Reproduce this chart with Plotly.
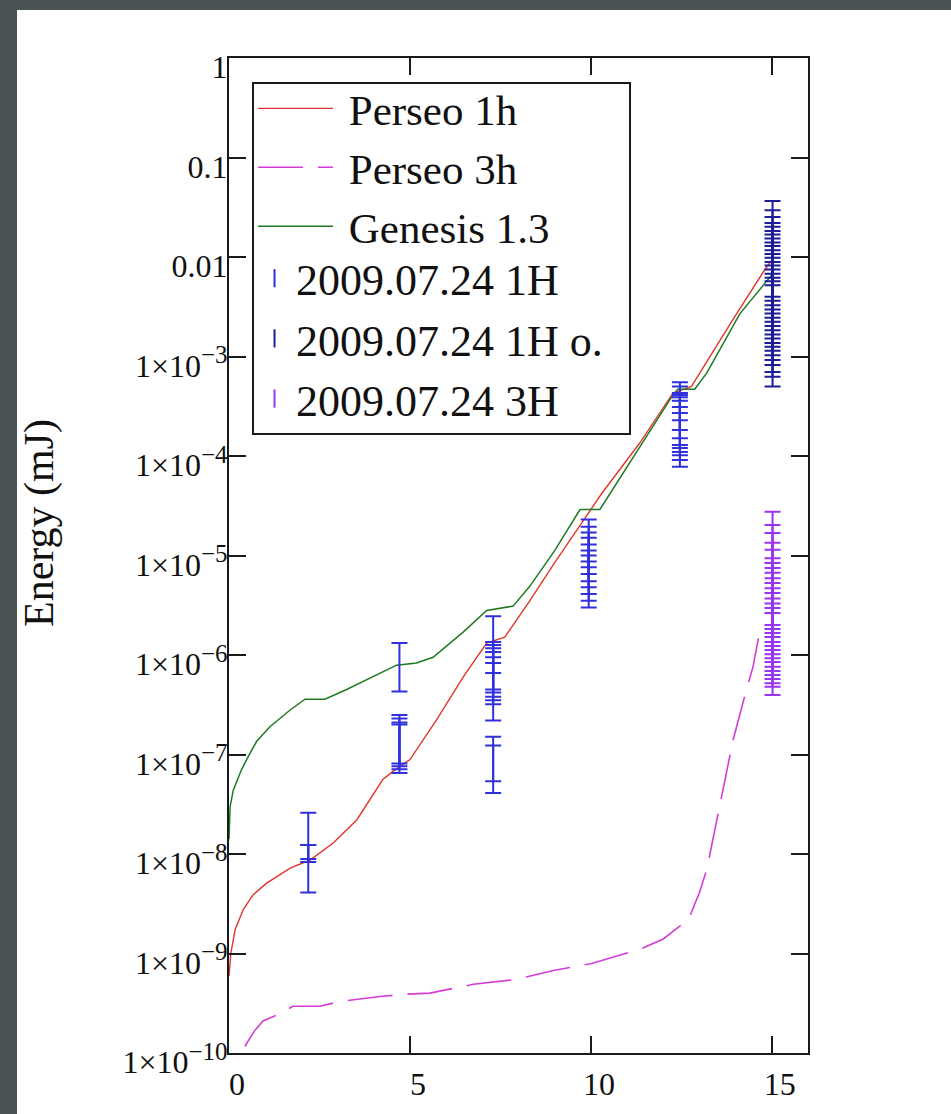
import plotly.graph_objects as go

# ---------------- data ----------------
# Perseo 1h (red)
p1h_x = [0, 0.05, 0.17, 0.4, 0.67, 1.04, 1.69, 2.24, 2.88, 3.53, 4.25, 4.54, 5.0, 5.74,
         6.47, 7.12, 7.62, 8.31, 9.0, 9.7, 10.3, 11.35, 12.27, 12.78, 13.2, 13.92, 14.8, 15.0]
p1h_e = [5.9e-10, 1.0e-9, 1.74e-9, 2.8e-9, 3.9e-9, 5.1e-9, 7.2e-9, 8.7e-9, 1.29e-8, 2.2e-8,
         5.6e-8, 6.8e-8, 8.9e-8, 2.24e-7, 6.0e-7, 1.32e-6, 1.51e-6, 3.5e-6, 8.5e-6, 2.0e-5,
         4.2e-5, 1.35e-4, 4.3e-4, 5.0e-4, 8.9e-4, 2.34e-3, 7.4e-3, 9.3e-3]

# Perseo 3h (magenta, dashed)
p3h_x = [0.44, 0.7, 0.94, 1.32, 1.77, 2.51, 3.07, 3.62, 4.17, 4.91, 5.55, 6.75, 7.95, 9.0,
         10.0, 11.35, 12.0, 12.7, 13.0, 13.2, 13.56, 13.93, 14.3, 14.48, 14.7]
p3h_e = [1.17e-10, 1.66e-10, 2.1e-10, 2.4e-10, 2.95e-10, 2.95e-10, 3.3e-10, 3.5e-10, 3.7e-10,
         3.9e-10, 4.0e-10, 4.9e-10, 5.5e-10, 6.8e-10, 7.9e-10, 1.1e-9, 1.4e-9, 2.2e-9, 4.1e-9,
         6.9e-9, 3.0e-8, 1.4e-7, 4.5e-7, 7.6e-7, 2.0e-6]

# Genesis 1.3 (green)
gen_x = [0, 0.03, 0.12, 0.35, 0.53, 0.76, 1.13, 1.69, 2.1, 2.65, 3.25, 4.17, 4.63, 5.18, 5.64,
         6.47, 7.12, 7.85, 8.31, 9.0, 9.7, 10.25, 11.35, 12.23, 12.4, 12.87, 13.2, 14.12, 14.8, 15.0]
gen_e = [1.41e-8, 3.0e-8, 4.4e-8, 7.1e-8, 9.5e-8, 1.35e-7, 1.9e-7, 2.8e-7, 3.6e-7, 3.6e-7,
         4.5e-7, 6.6e-7, 7.9e-7, 8.3e-7, 9.5e-7, 1.7e-6, 2.8e-6, 3.1e-6, 4.9e-6, 1.12e-5,
         2.9e-5, 2.9e-5, 1.23e-4, 3.9e-4, 4.7e-4, 4.7e-4, 6.8e-4, 2.7e-3, 5.4e-3, 6.6e-3]

# 2009.07.24 1H measurements (error bars: low / high)
m1h_x = [2.19, 2.19, 2.19,
         4.71, 4.71, 4.71, 4.71, 4.71,
         7.30, 7.30, 7.30, 7.30, 7.30, 7.30, 7.30, 7.30, 7.30,
         9.94, 9.94, 9.94, 9.94, 9.94, 9.94, 9.94, 9.94,
         12.46, 12.46, 12.46, 12.46, 12.46, 12.46, 12.46, 12.46, 12.46]
m1h_lo = [4.1e-9, 8.3e-9, 8.9e-9,
          4.3e-7, 8.1e-8, 7.6e-8, 7.1e-8, 6.5e-8,
          4.5e-7, 4.2e-7, 3.8e-7, 3.5e-7, 3.2e-7, 2.2e-7, 6.6e-7, 4.1e-8, 5.4e-8,
          3.0e-6, 3.5e-6, 4.1e-6, 4.8e-6, 5.5e-6, 6.5e-6, 7.6e-6, 8.7e-6,
          7.8e-5, 9.1e-5, 1.02e-4, 1.10e-4, 1.20e-4, 1.29e-4, 1.51e-4, 1.82e-4, 2.29e-4]
m1h_hi = [1.23e-8, 2.6e-8, 1.23e-8,
          1.32e-6, 2.5e-7, 2.3e-7, 2.1e-7, 2.0e-7,
          2.45e-6, 1.35e-6, 1.26e-6, 1.17e-6, 1.07e-6, 9.5e-7, 8.3e-7, 1.51e-7, 1.23e-7,
          2.3e-5, 1.95e-5, 1.70e-5, 1.51e-5, 1.29e-5, 1.12e-5, 1.0e-5, 8.7e-6,
          5.5e-4, 5.0e-4, 4.3e-4, 4.1e-4, 3.9e-4, 3.6e-4, 3.1e-4, 2.7e-4, 2.29e-4]

# 2009.07.24 1H o. measurements
m1ho_x = [15.02] * 20
m1ho_lo = [5.0e-4, 6.25e-4, 7.0e-4, 8.2e-4, 9.2e-4, 1.03e-3, 1.14e-3, 1.25e-3, 1.37e-3, 1.52e-3,
           1.66e-3, 1.84e-3, 2.02e-3, 2.23e-3, 2.45e-3, 2.70e-3, 2.97e-3, 3.28e-3, 3.63e-3, 3.98e-3]
m1ho_hi = [0.0366, 0.0295, 0.0253, 0.0220, 0.0201, 0.0183, 0.0168, 0.0153, 0.0140, 0.0129,
           0.0117, 0.0107, 0.0098, 0.0089, 0.0082, 0.0075, 0.0068, 0.0062, 0.0057, 0.0052]

# 2009.07.24 3H measurements
m3h_x = [15.02] * 17
m3h_lo = [3.97e-7, 4.8e-7, 5.2e-7, 5.75e-7, 6.3e-7, 6.9e-7, 7.6e-7, 8.5e-7, 9.3e-7, 1.02e-6,
          1.12e-6, 1.23e-6, 1.35e-6, 1.52e-6, 1.66e-6, 1.82e-6, 2.0e-6]
m3h_hi = [2.75e-5, 2.02e-5, 1.68e-5, 1.34e-5, 1.14e-5, 9.4e-6, 8.4e-6, 7.5e-6, 6.7e-6, 5.9e-6,
          5.3e-6, 4.7e-6, 4.2e-6, 3.7e-6, 3.3e-6, 2.97e-6, 2.65e-6]

y_tickvals = [1e-10, 1e-9, 1e-8, 1e-7, 1e-6, 1e-5, 1e-4, 1e-3, 1e-2, 1e-1, 1]
SUP = "<sup><span style='font-size:25px'>{}</span></sup>"
y_ticktext = ["1×10" + SUP.format("−10"), "1×10" + SUP.format("−9"), "1×10" + SUP.format("−8"),
              "1×10" + SUP.format("−7"), "1×10" + SUP.format("−6"), "1×10" + SUP.format("−5"),
              "1×10" + SUP.format("−4"), "1×10" + SUP.format("−3"), "0.01", "0.1", "1"]
x_tickvals = [0, 5, 10, 15]

# ---------------- styling ----------------
FONT = "Liberation Serif, Times New Roman, serif"
RED = "#e2352d"
MAG = "#d43cd6"
GREEN = "#1f7a22"
BLUE = "#3030dc"
NAVY = "#1d1d98"
PURPLE = "#9b33f2"
NB = "\u00a0"

fig = go.Figure()

fig.add_trace(go.Scatter(x=p1h_x, y=p1h_e, mode="lines", name=NB + "Perseo 1h",
                         line=dict(color=RED, width=1.4), legend="legend"))
fig.add_trace(go.Scatter(x=p3h_x, y=p3h_e, mode="lines", name=NB + "Perseo 3h",
                         line=dict(color=MAG, width=1.6, dash="45px,15px"), legend="legend"))
fig.add_trace(go.Scatter(x=gen_x, y=gen_e, mode="lines", name=NB + "Genesis 1.3",
                         line=dict(color=GREEN, width=1.5), legend="legend"))


def err_trace(xs, lo, hi, color, name):
    plus = [h - l for h, l in zip(hi, lo)]
    return go.Scatter(x=xs, y=lo, mode="markers", name=name, showlegend=False,
                      marker=dict(size=0.1, color=color, opacity=0),
                      error_y=dict(type="data", symmetric=False, array=plus,
                                   arrayminus=[0] * len(lo), color=color,
                                   thickness=2, width=8))


fig.add_trace(err_trace(m1h_x, m1h_lo, m1h_hi, BLUE, "2009.07.24 1H"))
fig.add_trace(err_trace(m1ho_x, m1ho_lo, m1ho_hi, NAVY, "2009.07.24 1H o."))
fig.add_trace(err_trace(m3h_x, m3h_lo, m3h_hi, PURPLE, "2009.07.24 3H"))

# legend entries for the measurement series
for nm, col in [("2009.07.24 1H", BLUE), ("2009.07.24 1H o.", NAVY), ("2009.07.24 3H", PURPLE)]:
    fig.add_trace(go.Scatter(x=[None], y=[None], mode="markers", name=nm, legend="legend2",
                             marker=dict(symbol="line-ns", size=13, color=col,
                                         line=dict(color=col, width=2))))

axis_common = dict(showline=True, linecolor="#1a1a1a", linewidth=2, mirror="ticks",
                   ticks="inside", ticklen=17, tickwidth=2, tickcolor="#1a1a1a",
                   showgrid=False, zeroline=False,
                   tickfont=dict(family=FONT, size=32, color="#111"))

legend_font = dict(family=FONT, size=43, color="#111")

fig.update_layout(
    width=951, height=1114,
    margin=dict(l=229, r=143, t=58, b=61),
    font=dict(family=FONT, color="#111"),
    paper_bgcolor="#4b5357",
    plot_bgcolor="white",
    xaxis=dict(range=[0, 16], tickmode="array", tickvals=x_tickvals,
               ticklabelshift=8, ticklabelstandoff=2, **axis_common),
    yaxis=dict(type="log", range=[-10, 0], tickmode="array", tickvals=y_tickvals,
               ticktext=y_ticktext, ticklabelshift=9, ticklabelstandoff=-7, **axis_common),
    legend=dict(x=0.0415, y=0.984, xanchor="left", yanchor="top",
                font=legend_font,
                bgcolor="rgba(0,0,0,0)", borderwidth=0, itemwidth=75,
                tracegroupgap=0),
    legend2=dict(x=0.0415, y=0.814, xanchor="left", yanchor="top",
                 font=dict(legend_font, size=44),
                 bgcolor="rgba(0,0,0,0)", borderwidth=0, itemwidth=33,
                 tracegroupgap=0),
    shapes=[
        # white page behind the chart (slide background shows at the top/left edge)
        dict(type="rect", xref="paper", yref="paper", x0=-0.3661, x1=1.4,
             y0=-0.2, y1=1.0482, fillcolor="white", line=dict(width=0), layer="below"),
        # legend frame
        dict(type="rect", xref="paper", yref="paper", x0=0.04145, x1=0.6926,
             y0=0.6221, y1=0.9749, fillcolor="white",
             line=dict(color="#1a1a1a", width=2), layer="above"),
    ],
    annotations=[
        dict(text="Energy (mJ)", xref="paper", yref="paper", x=-0.3264, y=0.5327,
             textangle=-90, showarrow=False, xanchor="center", yanchor="middle",
             font=dict(family=FONT, size=42, color="#111")),
    ],
)

fig.write_html("out.html")
